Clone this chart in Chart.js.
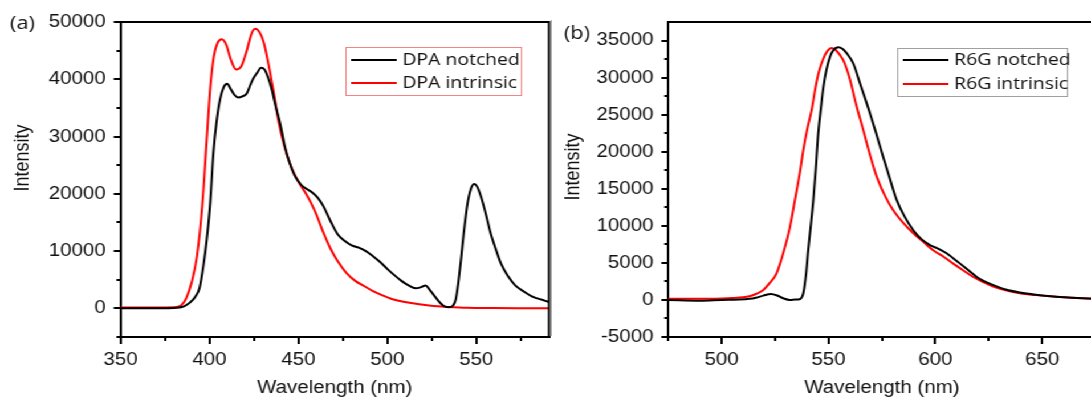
<!DOCTYPE html>
<html>
<head>
<meta charset="utf-8">
<title>DPA / R6G emission spectra</title>
<script src="https://cdn.jsdelivr.net/npm/chart.js@4.4.1/dist/chart.umd.min.js"></script>
<style>
    html, body { margin: 0; padding: 0; background: #fff; overflow: hidden; width: 1091px; height: 400px; }
    /* the original figure is a bit stretched horizontally, so stretch ours too */
    #wrap { position: absolute; left: 0; top: 0; width: 970px; height: 400px; transform: scaleX(1.14); transform-origin: 0 0; }
    .panel { position: absolute; top: 0; width: 485px; height: 400px; }
    #panelA { left: 0; }
    #panelB { left: 485px; }
</style>
</head>
<body>
<div id="wrap">
    <div class="panel" id="panelA"><canvas id="chartA"></canvas></div>
    <div class="panel" id="panelB"><canvas id="chartB"></canvas></div>
</div>
<script>
// ---- panel (a): DPA ----
const dpaNotchedWl = [350, 370, 382, 386, 389, 392, 394.5, 396.6, 398.5, 400.5, 402.2, 404, 406, 408, 410, 412, 414, 416.3, 418.5, 421, 423, 425, 427, 429, 431, 433, 435, 437.5, 440, 442.5, 445, 447.5, 450, 452.5, 455, 458, 461, 464, 468, 472, 476, 480, 484, 488, 492, 496, 500, 504, 508, 512, 516, 519, 521.5, 524, 527, 530, 532.5, 535, 537, 538.5, 540, 541.5, 543, 545, 547, 549, 550.5, 552, 554, 556, 558, 561, 564, 568, 572, 577, 582, 587, 591];
const dpaNotched = [0, 0, 100, 400, 1000, 2000, 3600, 7400, 12000, 18500, 27000, 32500, 36500, 38600, 39200, 38300, 37300, 36800, 37000, 37500, 39000, 40300, 41200, 42000, 41700, 40300, 38300, 35000, 32000, 28200, 25500, 23500, 22200, 21300, 20800, 20200, 19300, 17900, 15300, 13000, 11800, 11000, 10600, 10000, 9100, 8100, 6900, 5800, 4800, 4000, 3500, 3700, 4000, 3200, 2000, 900, 300, 200, 500, 1500, 4500, 8500, 13000, 18000, 20800, 21700, 21300, 20200, 18200, 15800, 13300, 10400, 7800, 5600, 4000, 2900, 2000, 1500, 1100];

const dpaIntrinsicWl = [350, 370, 380, 384, 387, 390, 393, 396, 398.5, 400.5, 402.5, 404.5, 407, 409.5, 412, 415, 418, 421, 423.5, 425.7, 428, 430.5, 433, 436, 439, 442, 445, 448, 451, 454, 457, 460, 464, 468, 472, 477, 482, 487, 492, 497, 503, 510, 518, 526, 534, 545, 560, 575, 591];
const dpaIntrinsic = [150, 150, 200, 500, 1800, 4500, 9100, 18000, 29500, 38500, 44000, 46300, 47000, 46000, 43500, 41700, 42300, 45000, 47800, 48800, 48300, 46500, 43000, 38000, 32500, 28500, 25500, 23300, 21600, 20200, 18500, 16500, 13300, 10500, 8300, 6200, 4800, 3900, 3000, 2300, 1600, 1100, 700, 400, 250, 100, 50, 20, 0];

const dpaXTicks = [350, 400, 450, 500, 550];
const dpaXMinor = [375, 425, 475, 525, 575];
const dpaYTicks = [0, 10000, 20000, 30000, 40000, 50000];
const dpaYMinor = [-5000, 5000, 15000, 25000, 35000, 45000];

// ---- panel (b): R6G ----
const r6gNotchedWl = [475, 490, 500, 508, 513, 516, 519.5, 523, 526, 528.8, 532, 534.5, 536.5, 538.2, 539.5, 540.5, 541.7, 542.9, 544, 545.2, 546.5, 547.6, 549, 550.7, 552.3, 554.5, 556.5, 558.5, 561.6, 565, 569.4, 572.5, 575.6, 578.8, 581.9, 585.5, 589.7, 593.5, 597.5, 601.5, 605.3, 608.5, 611.6, 615.5, 619.4, 623, 627.1, 633, 639.6, 647, 655.2, 664, 675];
const r6gNotched = [0, -100, 0, 50, 150, 300, 580, 800, 600, 230, 0, 50, 100, 900, 3500, 6700, 10000, 13500, 17500, 22500, 26000, 28700, 31000, 32800, 33700, 34100, 33900, 33300, 31900, 29000, 25200, 22300, 19300, 16300, 13500, 11300, 9400, 8200, 7400, 6900, 6300, 5600, 4900, 4000, 3100, 2500, 2000, 1400, 1000, 700, 450, 300, 150];

const r6gIntrinsicWl = [475, 490, 500, 505, 510, 513, 516, 519.5, 522.5, 525.7, 528.8, 532, 534.3, 536.5, 538.2, 540, 542.1, 544, 545.5, 547.5, 549.5, 551.5, 553.5, 555.5, 557, 558.5, 560, 563, 566.3, 569.5, 572.6, 576.5, 580.3, 585, 589.7, 594.5, 599, 604, 608.4, 613, 617.8, 622.5, 627.1, 633, 639.6, 647, 655.2, 664, 675];
const r6gIntrinsic = [150, 150, 200, 250, 350, 500, 800, 1350, 2300, 3600, 6300, 9900, 13500, 17000, 20200, 23000, 25600, 28800, 30800, 32500, 33600, 34000, 33700, 33000, 32300, 31200, 29800, 26300, 22900, 19500, 16600, 14000, 12100, 10400, 9000, 7800, 6700, 5800, 4900, 4000, 3100, 2400, 1800, 1300, 900, 650, 450, 300, 150];

const r6gXTicks = [500, 550, 600, 650];
const r6gXMinor = [475, 525, 575, 625];
const r6gYTicks = [-5000, 0, 5000, 10000, 15000, 20000, 25000, 30000, 35000];
const r6gYMinor = [-2500, 2500, 7500, 12500, 17500, 22500, 27500, 32500];

const TEXT_FONT = "'Liberation Sans', Arial, sans-serif";
const LEGEND_FONT = "'Open Sans', 'Liberation Sans', sans-serif";

function pts(xs, ys) {
    return xs.map((x, i) => ({ x: x, y: ys[i] }));
}

function lineSet(label, xs, ys, color) {
    return {
        label: label,
        data: pts(xs, ys),
        borderColor: color,
        backgroundColor: color,
        borderWidth: 2,
        pointRadius: 0,
        fill: false,
        cubicInterpolationMode: 'monotone'
    };
}

// frame, minor ticks, axis titles, panel letter and the boxed legend
const decoPlugin = {
    id: 'deco',
    afterDraw(chart, args, o) {
        const ctx = chart.ctx;
        const a = chart.chartArea;
        const xs = chart.scales.x, ys = chart.scales.y;
        ctx.save();

        ctx.strokeStyle = '#000';
        ctx.lineWidth = 2;
        ctx.beginPath();
        ctx.moveTo(a.left - 1, a.top);
        ctx.lineTo(a.right, a.top);
        ctx.lineTo(a.right, a.bottom + 1);
        ctx.stroke();

        ctx.beginPath();
        o.xMinor.forEach(v => {
            const px = Math.round(xs.getPixelForValue(v));
            ctx.moveTo(px, a.bottom);
            ctx.lineTo(px, a.bottom + 4);
        });
        o.yMinor.forEach(v => {
            const py = Math.round(ys.getPixelForValue(v));
            ctx.moveTo(a.left - 3.5, py);
            ctx.lineTo(a.left, py);
        });
        ctx.stroke();

        if (o.separatorX) {
            ctx.strokeStyle = '#9a9a9a';
            ctx.lineWidth = 1;
            ctx.beginPath();
            ctx.moveTo(o.separatorX, 20);
            ctx.lineTo(o.separatorX, 336);
            ctx.stroke();
        }

        ctx.fillStyle = '#111';
        ctx.font = '18px ' + TEXT_FONT;
        ctx.textAlign = 'center';
        ctx.textBaseline = 'middle';
        ctx.fillText('Wavelength (nm)', (a.left + a.right) / 2, o.xTitleY);

        ctx.save();
        ctx.translate(o.yTitleX, o.yTitleY);
        ctx.rotate(-Math.PI / 2);
        ctx.fillText('Intensity', 0, 0);
        ctx.restore();

        ctx.font = '19px ' + LEGEND_FONT;
        ctx.textAlign = 'left';
        ctx.fillText(o.letter, o.letterX, o.letterY);

        // legend
        const lg = o.legend;
        ctx.strokeStyle = lg.border;
        ctx.lineWidth = 1;
        ctx.strokeRect(lg.x + 0.5, lg.y + 0.5, lg.w, lg.h);
        ctx.font = '17px ' + LEGEND_FONT;
        chart.data.datasets.forEach((ds, i) => {
            const ry = lg.y + lg.rowTop + i * lg.rowGap;
            ctx.strokeStyle = ds.borderColor;
            ctx.lineWidth = 2;
            ctx.beginPath();
            ctx.moveTo(lg.x + 5, ry);
            ctx.lineTo(lg.x + 45, ry);
            ctx.stroke();
            ctx.fillStyle = '#111';
            ctx.fillText(ds.label, lg.x + 50, ry);
        });

        ctx.restore();
    }
};

function makeChart(id, datasets, cfg) {
    const ctx = document.getElementById(id).getContext('2d');
    return new Chart(ctx, {
        type: 'line',
        data: { datasets: datasets },
        plugins: [decoPlugin],
        options: {
            responsive: true,
            maintainAspectRatio: false,
            animation: false,
            layout: { padding: { top: 22, right: cfg.padRight, bottom: 0, left: 0 } },
            plugins: {
                legend: { display: false },
                tooltip: { enabled: false },
                deco: cfg.deco
            },
            scales: {
                x: {
                    type: 'linear',
                    min: cfg.xMin,
                    max: cfg.xMax,
                    afterBuildTicks: s => { s.ticks = cfg.xTicks.map(v => ({ value: v })); },
                    afterFit: s => { s.height = 63; },
                    ticks: {
                        color: '#111',
                        font: { family: TEXT_FONT, size: 18 },
                        padding: 5,
                        maxRotation: 0,
                        autoSkip: false,
                        callback: v => String(v)
                    },
                    grid: { drawOnChartArea: false, tickLength: 7, lineWidth: 2, color: '#000' },
                    border: { color: '#000', width: 2 }
                },
                y: {
                    type: 'linear',
                    min: cfg.yMin,
                    max: cfg.yMax,
                    afterBuildTicks: s => { s.ticks = cfg.yTicks.map(v => ({ value: v })); },
                    afterFit: s => { s.width = cfg.yWidth; },
                    ticks: {
                        color: '#111',
                        font: { family: TEXT_FONT, size: 18 },
                        padding: 7,
                        autoSkip: false,
                        callback: v => String(v)
                    },
                    grid: { drawOnChartArea: false, tickLength: 6, lineWidth: 2, color: '#000' },
                    border: { color: '#000', width: 2 }
                }
            }
        }
    });
}

document.addEventListener('DOMContentLoaded', function() {
    makeChart('chartA', [
        lineSet('DPA notched', dpaNotchedWl, dpaNotched, '#000000'),
        lineSet('DPA intrinsic', dpaIntrinsicWl, dpaIntrinsic, '#ff0000')
    ], {
        xMin: 350, xMax: 591, yMin: -5000, yMax: 50000,
        xTicks: dpaXTicks, yTicks: dpaYTicks,
        yWidth: 105.7, padRight: 3.4,
        deco: {
            xMinor: dpaXMinor, yMinor: dpaYMinor,
            xTitleY: 388, yTitleX: 20, yTitleY: 158,
            letter: '(a)', letterX: 8.8, letterY: 24,
            separatorX: 483.5,
            legend: { x: 303, y: 47, w: 154, h: 48, rowTop: 13, rowGap: 23, border: 'rgba(240, 90, 90, 0.75)' }
        }
    });

    makeChart('chartB', [
        lineSet('R6G notched', r6gNotchedWl, r6gNotched, '#000000'),
        lineSet('R6G intrinsic', r6gIntrinsicWl, r6gIntrinsic, '#ff0000')
    ], {
        xMin: 475, xMax: 675, yMin: -5000, yMax: 37500,
        xTicks: r6gXTicks, yTicks: r6gYTicks,
        yWidth: 101.2, padRight: 9,
        deco: {
            xMinor: r6gXMinor, yMinor: r6gYMinor,
            xTitleY: 388, yTitleX: 17.6, yTitleY: 167,
            letter: '(b)', letterX: 9.7, letterY: 34,
            separatorX: null,
            legend: { x: 302, y: 48, w: 149, h: 48, rowTop: 12, rowGap: 24, border: '#a0a0a0' }
        }
    });
});
</script>
</body>
</html>
